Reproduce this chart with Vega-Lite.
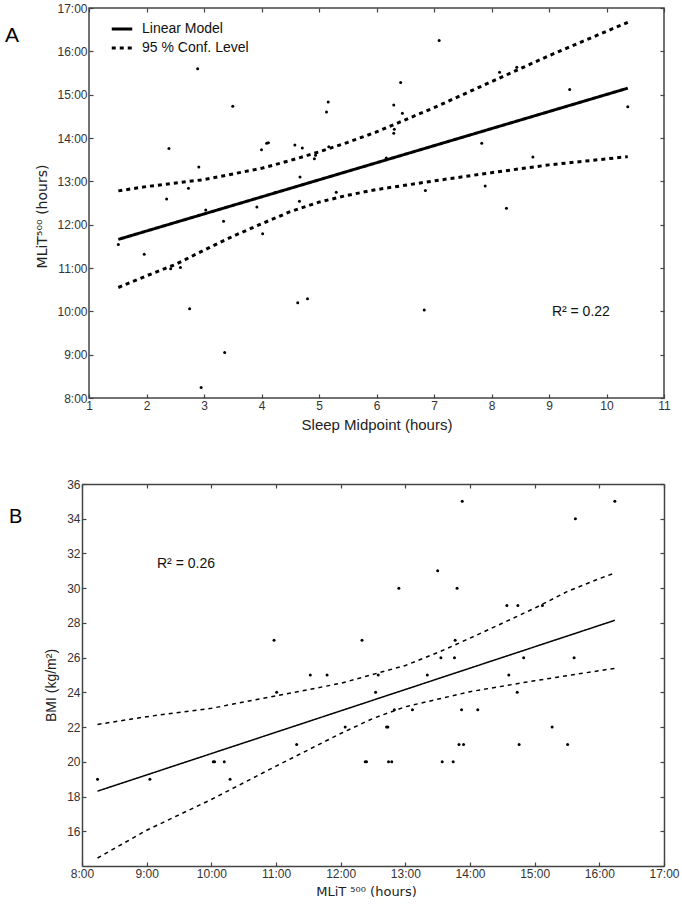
{
  "$schema": "https://vega.github.io/schema/vega-lite/v6.json",
  "padding": {"left": 4, "top": 1, "right": 0, "bottom": 0},
  "spacing": 45,
  "background": "white",
  "datasets": {
    "a_points": [
      {"sleep": 1.51, "mlit": 11.54}, {"sleep": 1.96, "mlit": 11.32}, {"sleep": 2.35, "mlit": 12.59},
      {"sleep": 2.39, "mlit": 13.76}, {"sleep": 2.42, "mlit": 10.98}, {"sleep": 2.59, "mlit": 11.01},
      {"sleep": 2.73, "mlit": 12.84}, {"sleep": 2.75, "mlit": 10.06}, {"sleep": 2.89, "mlit": 15.6},
      {"sleep": 2.91, "mlit": 13.33}, {"sleep": 2.95, "mlit": 8.24}, {"sleep": 3.03, "mlit": 12.34},
      {"sleep": 3.34, "mlit": 12.08}, {"sleep": 3.36, "mlit": 9.05}, {"sleep": 3.5, "mlit": 14.73},
      {"sleep": 3.92, "mlit": 12.41}, {"sleep": 4.0, "mlit": 13.73}, {"sleep": 4.02, "mlit": 11.79},
      {"sleep": 4.09, "mlit": 13.88}, {"sleep": 4.12, "mlit": 13.89}, {"sleep": 4.24, "mlit": 12.74},
      {"sleep": 4.58, "mlit": 13.84}, {"sleep": 4.63, "mlit": 10.2}, {"sleep": 4.66, "mlit": 12.54},
      {"sleep": 4.67, "mlit": 13.1}, {"sleep": 4.71, "mlit": 13.77}, {"sleep": 4.8, "mlit": 10.29},
      {"sleep": 4.92, "mlit": 13.52}, {"sleep": 4.94, "mlit": 13.6}, {"sleep": 5.13, "mlit": 14.6},
      {"sleep": 5.16, "mlit": 14.83}, {"sleep": 5.17, "mlit": 13.8}, {"sleep": 5.3, "mlit": 12.75},
      {"sleep": 6.17, "mlit": 13.54}, {"sleep": 6.3, "mlit": 14.11}, {"sleep": 6.31, "mlit": 14.2},
      {"sleep": 6.3, "mlit": 14.76}, {"sleep": 6.42, "mlit": 15.28}, {"sleep": 6.45, "mlit": 14.57},
      {"sleep": 6.83, "mlit": 10.03}, {"sleep": 6.85, "mlit": 12.79}, {"sleep": 7.09, "mlit": 16.25},
      {"sleep": 7.83, "mlit": 13.88}, {"sleep": 7.89, "mlit": 12.89}, {"sleep": 8.14, "mlit": 15.52},
      {"sleep": 8.26, "mlit": 12.38}, {"sleep": 8.44, "mlit": 15.63}, {"sleep": 8.72, "mlit": 13.56},
      {"sleep": 9.36, "mlit": 15.12}, {"sleep": 10.37, "mlit": 14.72}
    ],
    "a_lines": [
      {"curve": "fit", "series": "Linear Model", "sleep": 1.51, "mlit": 11.66},
      {"curve": "fit", "series": "Linear Model", "sleep": 10.37, "mlit": 15.15},
      {"curve": "upper", "series": "95 % Conf. Level", "sleep": 1.51, "mlit": 12.78},
      {"curve": "upper", "series": "95 % Conf. Level", "sleep": 2, "mlit": 12.88},
      {"curve": "upper", "series": "95 % Conf. Level", "sleep": 3, "mlit": 13.04},
      {"curve": "upper", "series": "95 % Conf. Level", "sleep": 4, "mlit": 13.3},
      {"curve": "upper", "series": "95 % Conf. Level", "sleep": 4.5, "mlit": 13.48},
      {"curve": "upper", "series": "95 % Conf. Level", "sleep": 5, "mlit": 13.68},
      {"curve": "upper", "series": "95 % Conf. Level", "sleep": 5.5, "mlit": 13.9},
      {"curve": "upper", "series": "95 % Conf. Level", "sleep": 6, "mlit": 14.14},
      {"curve": "upper", "series": "95 % Conf. Level", "sleep": 6.5, "mlit": 14.42},
      {"curve": "upper", "series": "95 % Conf. Level", "sleep": 7, "mlit": 14.7},
      {"curve": "upper", "series": "95 % Conf. Level", "sleep": 7.5, "mlit": 15.0},
      {"curve": "upper", "series": "95 % Conf. Level", "sleep": 8, "mlit": 15.3},
      {"curve": "upper", "series": "95 % Conf. Level", "sleep": 9, "mlit": 15.9},
      {"curve": "upper", "series": "95 % Conf. Level", "sleep": 10.37, "mlit": 16.67},
      {"curve": "lower", "series": "95 % Conf. Level", "sleep": 1.51, "mlit": 10.55},
      {"curve": "lower", "series": "95 % Conf. Level", "sleep": 2, "mlit": 10.82},
      {"curve": "lower", "series": "95 % Conf. Level", "sleep": 2.5, "mlit": 11.08},
      {"curve": "lower", "series": "95 % Conf. Level", "sleep": 3, "mlit": 11.41},
      {"curve": "lower", "series": "95 % Conf. Level", "sleep": 3.5, "mlit": 11.73},
      {"curve": "lower", "series": "95 % Conf. Level", "sleep": 4, "mlit": 12.02},
      {"curve": "lower", "series": "95 % Conf. Level", "sleep": 4.5, "mlit": 12.3},
      {"curve": "lower", "series": "95 % Conf. Level", "sleep": 5, "mlit": 12.52},
      {"curve": "lower", "series": "95 % Conf. Level", "sleep": 5.5, "mlit": 12.68},
      {"curve": "lower", "series": "95 % Conf. Level", "sleep": 6, "mlit": 12.81},
      {"curve": "lower", "series": "95 % Conf. Level", "sleep": 7, "mlit": 13.01},
      {"curve": "lower", "series": "95 % Conf. Level", "sleep": 8, "mlit": 13.2},
      {"curve": "lower", "series": "95 % Conf. Level", "sleep": 9, "mlit": 13.38},
      {"curve": "lower", "series": "95 % Conf. Level", "sleep": 10.37, "mlit": 13.57}
    ],
    "a_text": [{"sleep": 9.05, "mlit": 9.98, "label": "R² = 0.22"}],
    "b_points": [
      {"mlit": 8.24, "bmi": 19}, {"mlit": 9.05, "bmi": 19}, {"mlit": 10.03, "bmi": 20}, {"mlit": 10.05, "bmi": 20},
      {"mlit": 10.2, "bmi": 20}, {"mlit": 10.29, "bmi": 19}, {"mlit": 10.97, "bmi": 27}, {"mlit": 11.01, "bmi": 24},
      {"mlit": 11.32, "bmi": 21}, {"mlit": 11.53, "bmi": 25}, {"mlit": 11.79, "bmi": 25}, {"mlit": 12.07, "bmi": 22},
      {"mlit": 12.33, "bmi": 27}, {"mlit": 12.38, "bmi": 20}, {"mlit": 12.4, "bmi": 20}, {"mlit": 12.54, "bmi": 24},
      {"mlit": 12.58, "bmi": 25}, {"mlit": 12.71, "bmi": 22}, {"mlit": 12.73, "bmi": 22}, {"mlit": 12.74, "bmi": 20},
      {"mlit": 12.79, "bmi": 20}, {"mlit": 12.83, "bmi": 23}, {"mlit": 12.9, "bmi": 30}, {"mlit": 13.11, "bmi": 23},
      {"mlit": 13.34, "bmi": 25}, {"mlit": 13.5, "bmi": 31}, {"mlit": 13.55, "bmi": 26}, {"mlit": 13.57, "bmi": 20},
      {"mlit": 13.74, "bmi": 20}, {"mlit": 13.76, "bmi": 26}, {"mlit": 13.77, "bmi": 27}, {"mlit": 13.8, "bmi": 30},
      {"mlit": 13.83, "bmi": 21}, {"mlit": 13.87, "bmi": 23}, {"mlit": 13.88, "bmi": 35}, {"mlit": 13.9, "bmi": 21},
      {"mlit": 14.12, "bmi": 23}, {"mlit": 14.57, "bmi": 29}, {"mlit": 14.6, "bmi": 25}, {"mlit": 14.73, "bmi": 24},
      {"mlit": 14.74, "bmi": 29}, {"mlit": 14.76, "bmi": 21}, {"mlit": 14.83, "bmi": 26}, {"mlit": 15.12, "bmi": 29},
      {"mlit": 15.27, "bmi": 22}, {"mlit": 15.51, "bmi": 21}, {"mlit": 15.61, "bmi": 26}, {"mlit": 15.63, "bmi": 34},
      {"mlit": 16.24, "bmi": 35}
    ],
    "b_lines": [
      {"curve": "fit", "series": "Linear Model", "mlit": 8.24, "bmi": 18.31},
      {"curve": "fit", "series": "Linear Model", "mlit": 16.24, "bmi": 28.15},
      {"curve": "upper", "series": "95 % Conf. Level", "mlit": 8.24, "bmi": 22.15},
      {"curve": "upper", "series": "95 % Conf. Level", "mlit": 9, "bmi": 22.6},
      {"curve": "upper", "series": "95 % Conf. Level", "mlit": 10, "bmi": 23.08},
      {"curve": "upper", "series": "95 % Conf. Level", "mlit": 11, "bmi": 23.8},
      {"curve": "upper", "series": "95 % Conf. Level", "mlit": 12, "bmi": 24.52},
      {"curve": "upper", "series": "95 % Conf. Level", "mlit": 13, "bmi": 25.55},
      {"curve": "upper", "series": "95 % Conf. Level", "mlit": 13.5, "bmi": 26.29},
      {"curve": "upper", "series": "95 % Conf. Level", "mlit": 14, "bmi": 27.12},
      {"curve": "upper", "series": "95 % Conf. Level", "mlit": 14.5, "bmi": 27.98},
      {"curve": "upper", "series": "95 % Conf. Level", "mlit": 15, "bmi": 28.85},
      {"curve": "upper", "series": "95 % Conf. Level", "mlit": 15.5, "bmi": 29.8},
      {"curve": "upper", "series": "95 % Conf. Level", "mlit": 16, "bmi": 30.55},
      {"curve": "upper", "series": "95 % Conf. Level", "mlit": 16.24, "bmi": 30.87},
      {"curve": "lower", "series": "95 % Conf. Level", "mlit": 8.24, "bmi": 14.46},
      {"curve": "lower", "series": "95 % Conf. Level", "mlit": 9, "bmi": 16.06},
      {"curve": "lower", "series": "95 % Conf. Level", "mlit": 10, "bmi": 17.83},
      {"curve": "lower", "series": "95 % Conf. Level", "mlit": 11, "bmi": 19.75},
      {"curve": "lower", "series": "95 % Conf. Level", "mlit": 12, "bmi": 21.63},
      {"curve": "lower", "series": "95 % Conf. Level", "mlit": 12.5, "bmi": 22.5},
      {"curve": "lower", "series": "95 % Conf. Level", "mlit": 13, "bmi": 23.17},
      {"curve": "lower", "series": "95 % Conf. Level", "mlit": 14, "bmi": 24.04},
      {"curve": "lower", "series": "95 % Conf. Level", "mlit": 15, "bmi": 24.67},
      {"curve": "lower", "series": "95 % Conf. Level", "mlit": 16, "bmi": 25.25},
      {"curve": "lower", "series": "95 % Conf. Level", "mlit": 16.24, "bmi": 25.38}
    ],
    "b_text": [{"mlit": 9.16, "bmi": 31.39, "label": "R² = 0.26"}]
  },
  "vconcat": [
    {
      "width": 575,
      "height": 390,
      "title": {"text": "A", "anchor": "start", "frame": "group", "fontSize": 21, "fontWeight": "normal", "font": "Liberation Sans", "color": "black", "dx": -84, "dy": 48},
      "layer": [
        {
          "data": {"name": "a_points"},
          "mark": {"type": "circle", "size": 9, "color": "black", "opacity": 1},
          "encoding": {
            "x": {"field": "sleep", "type": "quantitative", "scale": {"domain": [1, 11], "nice": false, "zero": false},
              "axis": {"orient": "bottom", "values": [1, 2, 3, 4, 5, 6, 7, 8, 9, 10, 11], "title": "Sleep Midpoint (hours)", "labelFontSize": 12, "titleFontSize": 15, "titlePadding": 6, "labelPadding": 6}},
            "y": {"field": "mlit", "type": "quantitative", "scale": {"domain": [8, 17], "nice": false, "zero": false},
              "axis": {"orient": "left", "values": [8, 9, 10, 11, 12, 13, 14, 15, 16, 17], "labelExpr": "datum.value + ':00'", "title": "MLiT⁵⁰⁰ (hours)", "titleFont": "DejaVu Sans", "titleY": 208, "labelFontSize": 12, "titleFontSize": 14, "titlePadding": 7, "labelPadding": 6}}
          }
        },
        {
          "data": {"name": "a_lines"},
          "mark": {"type": "line", "color": "black", "strokeWidth": 3},
          "encoding": {
            "x": {"field": "sleep", "type": "quantitative", "axis": {"orient": "top", "labels": false, "title": null, "values": [1, 2, 3, 4, 5, 6, 7, 8, 9, 10, 11]}},
            "y": {"field": "mlit", "type": "quantitative", "axis": {"orient": "right", "labels": false, "title": null, "values": [8, 9, 10, 11, 12, 13, 14, 15, 16, 17]}},
            "detail": {"field": "curve"},
            "strokeDash": {"field": "series", "type": "nominal",
              "scale": {"domain": ["Linear Model", "95 % Conf. Level"], "range": [[1, 0], [4, 4]]},
              "legend": {"orient": "none", "legendX": 21, "legendY": 9, "title": null, "symbolType": "stroke", "symbolStrokeWidth": 3, "symbolSize": 420, "symbolStrokeColor": "black", "labelFontSize": 14, "labelFont": "Liberation Sans", "labelColor": "#111", "labelOffset": 8, "rowPadding": 0}}
          }
        },
        {
          "data": {"name": "a_text"},
          "mark": {"type": "text", "align": "left", "baseline": "middle", "fontSize": 14, "font": "Liberation Sans", "color": "#111"},
          "encoding": {
            "x": {"field": "sleep", "type": "quantitative", "axis": null},
            "y": {"field": "mlit", "type": "quantitative", "axis": null},
            "text": {"field": "label"}
          }
        }
      ],
      "resolve": {"axis": {"x": "independent", "y": "independent"}}
    },
    {
      "width": 575,
      "height": 382,
      "view": {"stroke": null},
      "title": {"text": "B", "anchor": "start", "frame": "group", "fontSize": 20, "fontWeight": "normal", "font": "Liberation Sans", "color": "black", "dx": -80, "dy": 53},
      "layer": [
        {
          "data": {"name": "b_points"},
          "mark": {"type": "circle", "size": 9, "color": "black", "opacity": 1},
          "encoding": {
            "x": {"field": "mlit", "type": "quantitative", "scale": {"domain": [8, 17], "range": [-7, 575], "nice": false, "zero": false},
              "axis": {"orient": "bottom", "domain": true, "values": [8, 9, 10, 11, 12, 13, 14, 15, 16, 17], "labelExpr": "datum.value + ':00'", "title": "MLiT ⁵⁰⁰ (hours)", "titleFont": "DejaVu Sans", "titleX": 277, "labelFontSize": 12, "titleFontSize": 13, "titlePadding": 6, "labelPadding": 6}},
            "y": {"field": "bmi", "type": "quantitative", "scale": {"domain": [14, 36], "nice": false, "zero": false},
              "axis": {"orient": "left", "offset": 7, "domain": true, "values": [16, 18, 20, 22, 24, 26, 28, 30, 32, 34, 36], "title": "BMI (kg/m²)", "titleY": 201, "labelFontSize": 12, "titleFontSize": 14, "titlePadding": 8, "labelPadding": 6}}
          }
        },
        {
          "data": {"name": "b_lines"},
          "mark": {"type": "line", "color": "black", "strokeWidth": 1.5},
          "encoding": {
            "x": {"field": "mlit", "type": "quantitative", "axis": {"orient": "top", "domain": true, "labels": false, "title": null, "values": [8, 9, 10, 11, 12, 13, 14, 15, 16, 17]}},
            "y": {"field": "bmi", "type": "quantitative", "axis": {"orient": "right", "domain": true, "labels": false, "title": null, "values": [14, 16, 18, 20, 22, 24, 26, 28, 30, 32, 34, 36]}},
            "detail": {"field": "curve"},
            "strokeDash": {"field": "series", "type": "nominal",
              "scale": {"domain": ["Linear Model", "95 % Conf. Level"], "range": [[1, 0], [4, 3]]},
              "legend": {"orient": "none", "legendX": 65, "legendY": 6, "title": null, "symbolType": "stroke", "symbolStrokeWidth": 1.5, "symbolSize": 441, "symbolStrokeColor": "black", "labelFontSize": 14, "labelFont": "Liberation Sans", "labelColor": "#111", "labelOffset": 8, "rowPadding": 2}}
          }
        },
        {
          "data": {"name": "b_text"},
          "mark": {"type": "text", "align": "left", "baseline": "middle", "fontSize": 14, "font": "Liberation Sans", "color": "#111"},
          "encoding": {
            "x": {"field": "mlit", "type": "quantitative", "axis": null},
            "y": {"field": "bmi", "type": "quantitative", "axis": null},
            "text": {"field": "label"}
          }
        }
      ],
      "resolve": {"axis": {"x": "independent", "y": "independent"}}
    }
  ],
  "config": {
    "view": {"stroke": "#444", "strokeWidth": 1.5},
    "axis": {"grid": false, "domain": false, "domainColor": "#444", "domainWidth": 1.5, "labelFlush": false, "tickSize": -4, "tickColor": "#444", "tickWidth": 1.2, "labelFont": "Liberation Sans", "labelColor": "#333", "titleFont": "Liberation Sans", "titleFontWeight": "normal", "titleColor": "#222"},
    "font": "Liberation Sans"
  }
}
